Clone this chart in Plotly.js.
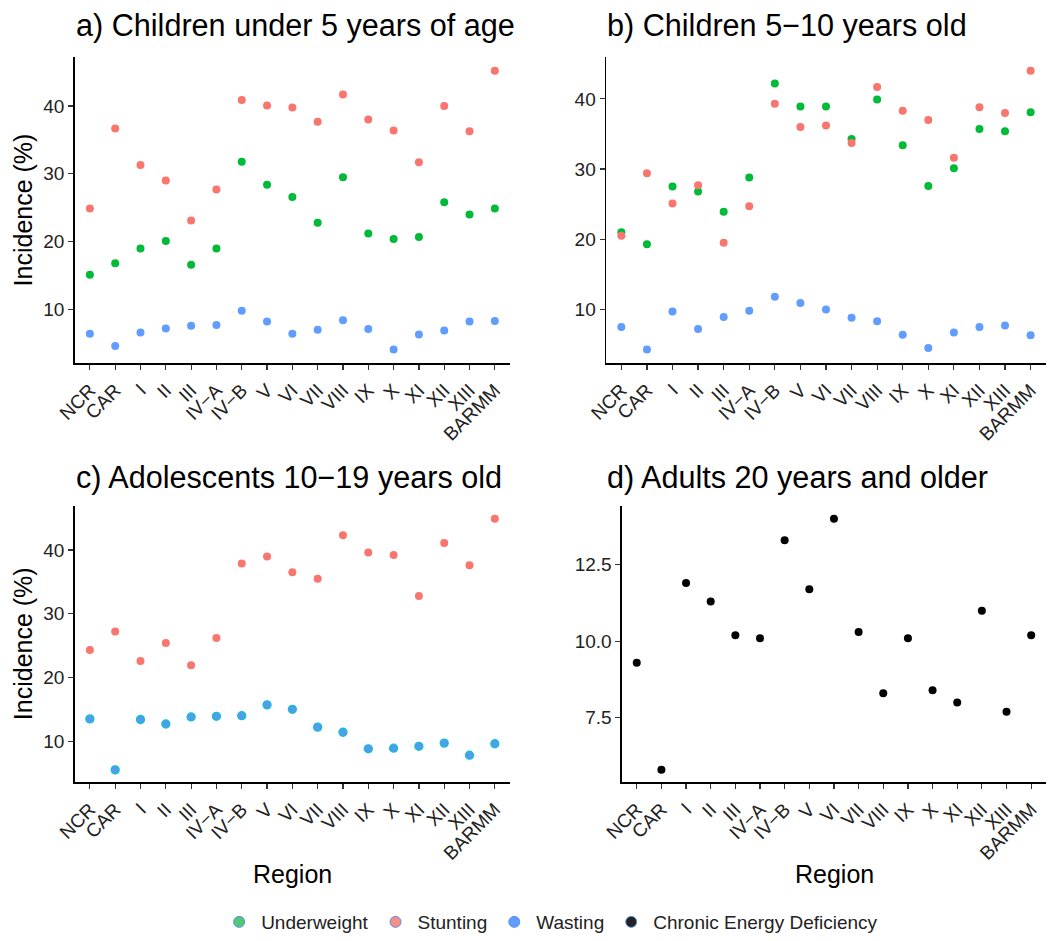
<!DOCTYPE html>
<html>
<head>
<meta charset="utf-8">
<script src="https://cdn.plot.ly/plotly-3.0.1.min.js"></script>
<style>
  html, body { margin: 0; padding: 0; background: #fff; }
  #chart { width: 1049px; height: 941px; }
</style>
</head>
<body>
<div id="chart"></div>
<script>
// Regions of the Philippines, in plotting order
const regions = ['NCR', 'CAR', 'I', 'II', 'III', 'IV\u2212A', 'IV\u2212B', 'V', 'VI', 'VII',
                 'VIII', 'IX', 'X', 'XI', 'XII', 'XIII', 'BARMM'];

// a) Children under 5 years of age (%)
const underweightU5 = [15.1, 16.8, 19.0, 20.1, 16.6, 19.0, 31.8, 28.4, 26.6, 22.8, 29.5, 21.2, 20.4, 20.7, 25.8, 24.0, 24.9];
const stuntingU5    = [24.9, 36.7, 31.3, 29.0, 23.1, 27.7, 40.9, 40.1, 39.8, 37.7, 41.7, 38.0, 36.4, 31.7, 40.0, 36.3, 45.2];
const wastingU5     = [6.4, 4.6, 6.6, 7.2, 7.6, 7.7, 9.8, 8.2, 6.4, 7.0, 8.4, 7.1, 4.1, 6.3, 6.9, 8.2, 8.3];

// b) Children 5-10 years old (%)
const underweight510 = [21.0, 19.3, 27.5, 26.8, 23.9, 28.8, 42.2, 38.9, 38.9, 34.3, 39.9, 33.4, 27.6, 30.1, 35.7, 35.4, 38.1];
const stunting510    = [20.5, 29.4, 25.1, 27.7, 19.5, 24.7, 39.3, 36.0, 36.2, 33.7, 41.7, 38.3, 37.0, 31.6, 38.8, 38.0, 44.0];
const wasting510     = [7.5, 4.3, 9.7, 7.2, 8.9, 9.8, 11.8, 10.9, 10.0, 8.8, 8.3, 6.4, 4.5, 6.7, 7.5, 7.7, 6.3];

// c) Adolescents 10-19 years old (%)
const stuntingAdol = [24.3, 27.2, 22.6, 25.4, 21.9, 26.2, 37.9, 39.0, 36.5, 35.5, 42.3, 39.6, 39.2, 32.8, 41.1, 37.6, 44.9];
const wastingAdol  = [13.5, 5.5, 13.4, 12.7, 13.8, 13.9, 14.0, 15.7, 15.0, 12.2, 11.4, 8.8, 8.9, 9.2, 9.7, 7.8, 9.6];

// d) Adults 20 years and older (%)
const cedAdult = [9.3, 5.8, 11.9, 11.3, 10.2, 10.1, 13.3, 11.7, 14.0, 10.3, 8.3, 10.1, 8.4, 8.0, 11.0, 7.7, 10.2];

// Tick values
const yTicksChildren = [10, 20, 30, 40];
const yTicksAdult = [7.5, 10.0, 12.5];

const FONT = 'Liberation Sans, Arial, Helvetica, sans-serif';
const C_UNDER = '#00BA38', C_STUNT = '#F8766D', C_WASTE = '#619CFF';

// Continuous range with 5% padding on both sides
function padRange(arrays) {
  const all = [].concat(...arrays);
  const lo = Math.min(...all), hi = Math.max(...all), e = (hi - lo) * 0.05;
  return [lo - e, hi + e];
}

function pts(y, xa, ya, marker) {
  return { type: 'scatter', mode: 'markers', x: regions, y: y, xaxis: xa, yaxis: ya,
           marker: Object.assign({ size: 8 }, marker), showlegend: false, hoverinfo: 'x+y' };
}

const traces = [
  pts(underweightU5, 'x', 'y', { color: C_UNDER }),
  pts(stuntingU5, 'x', 'y', { color: C_STUNT }),
  pts(wastingU5, 'x', 'y', { color: C_WASTE }),

  pts(underweight510, 'x2', 'y2', { color: C_UNDER }),
  pts(stunting510, 'x2', 'y2', { color: C_STUNT }),
  pts(wasting510, 'x2', 'y2', { color: C_WASTE }),

  pts(stuntingAdol, 'x3', 'y3', { color: C_STUNT }),
  pts(wastingAdol, 'x3', 'y3', { color: '#4F9DEB', line: { color: '#14BFD2', width: 1.3 } }),

  pts(cedAdult, 'x4', 'y4', { color: '#000000' })
];

// Shared legend entries
const legendItems = [
  ['Underweight', '#52C875'],
  ['Stunting', '#F4908A'],
  ['Wasting', '#619CFF'],
  ['Chronic Energy Deficiency', '#222222']
];
legendItems.forEach(([name, col]) => {
  traces.push({ type: 'scatter', mode: 'markers', x: [null], y: [null], xaxis: 'x', yaxis: 'y',
                name: name, showlegend: true,
                marker: { size: 11, color: col, line: { color: '#5B8FE8', width: 1 } } });
});

const xCommon = {
  type: 'category', range: [-0.6, 16.6], showline: true, linecolor: '#000', linewidth: 1.5,
  ticks: 'outside', ticklen: 5, tickwidth: 1.2, tickcolor: '#333', tickangle: -45,
  ticklabelstandoff: 2,
  tickfont: { family: FONT, size: 19, color: '#222' }, showgrid: false, zeroline: false,
  fixedrange: true
};
const yCommon = {
  showline: true, linecolor: '#000', linewidth: 1.5, ticks: 'outside', ticklen: 5,
  tickwidth: 1.2, tickcolor: '#333', tickfont: { family: FONT, size: 19, color: '#222' },
  showgrid: false, zeroline: false, tickmode: 'array', fixedrange: true
};

const topRow = [0.6110, 0.9391], botRow = [0.1623, 0.4580];

const layout = {
  width: 1049, height: 941,
  margin: { l: 0, r: 0, t: 0, b: 0 },
  paper_bgcolor: '#fff', plot_bgcolor: '#fff',
  font: { family: FONT, color: '#000' },
  xaxis:  Object.assign({}, xCommon, { domain: [0.0712, 0.4862], anchor: 'y' }),
  yaxis:  Object.assign({}, yCommon, { domain: topRow, anchor: 'x', tickvals: yTicksChildren,
            range: padRange([underweightU5, stuntingU5, wastingU5]) }),
  xaxis2: Object.assign({}, xCommon, { domain: [0.5777, 0.9971], anchor: 'y2' }),
  yaxis2: Object.assign({}, yCommon, { domain: topRow, anchor: 'x2', tickvals: yTicksChildren,
            range: padRange([underweight510, stunting510, wasting510]) }),
  xaxis3: Object.assign({}, xCommon, { domain: [0.0712, 0.4862], anchor: 'y3' }),
  yaxis3: Object.assign({}, yCommon, { domain: botRow, anchor: 'x3', tickvals: yTicksChildren,
            range: padRange([stuntingAdol, wastingAdol]) }),
  xaxis4: Object.assign({}, xCommon, { domain: [0.5929, 0.9971], anchor: 'y4' }),
  yaxis4: Object.assign({}, yCommon, { domain: botRow, anchor: 'x4', tickvals: yTicksAdult,
            tickformat: '.1f', range: padRange([cedAdult]) }),
  showlegend: true,
  legend: {
    orientation: 'h', x: 0.207, xanchor: 'left', y: 0.0128, yanchor: 'middle',
    itemwidth: 34,
    font: { family: FONT, size: 19, color: '#222' }, bgcolor: 'rgba(0,0,0,0)'
  },
  annotations: [
    // panel titles
    { text: 'a) Children under 5 years of age', x: 74 / 1049, y: 1 - 25.5 / 941 },
    { text: 'b) Children 5\u221210 years old', x: 605 / 1049, y: 1 - 25.5 / 941 },
    { text: 'c) Adolescents 10\u221219 years old', x: 74 / 1049, y: 1 - 481.5 / 941 },
    { text: 'd) Adults 20 years and older', x: 605 / 1049, y: 1 - 481.5 / 941 }
  ].map(a => Object.assign(a, { xref: 'paper', yref: 'paper', xanchor: 'left', yanchor: 'middle',
       showarrow: false, font: { family: FONT, size: 30.6, color: '#000' } })).concat([
    // axis titles
    { text: 'Incidence (%)', x: 23 / 1049, y: 1 - 212 / 941, textangle: -90 },
    { text: 'Incidence (%)', x: 23 / 1049, y: 1 - 649 / 941, textangle: -90 },
    { text: 'Region', x: 292 / 1049, y: 1 - 881 / 941 },
    { text: 'Region', x: 834 / 1049, y: 1 - 881 / 941 }
  ].map(a => Object.assign(a, { xref: 'paper', yref: 'paper', xanchor: 'center', yanchor: 'middle',
       showarrow: false, font: { family: FONT, size: 25, color: '#000' } })))
};

Plotly.newPlot('chart', traces, layout, { displayModeBar: false, staticPlot: true });
</script>
</body>
</html>
